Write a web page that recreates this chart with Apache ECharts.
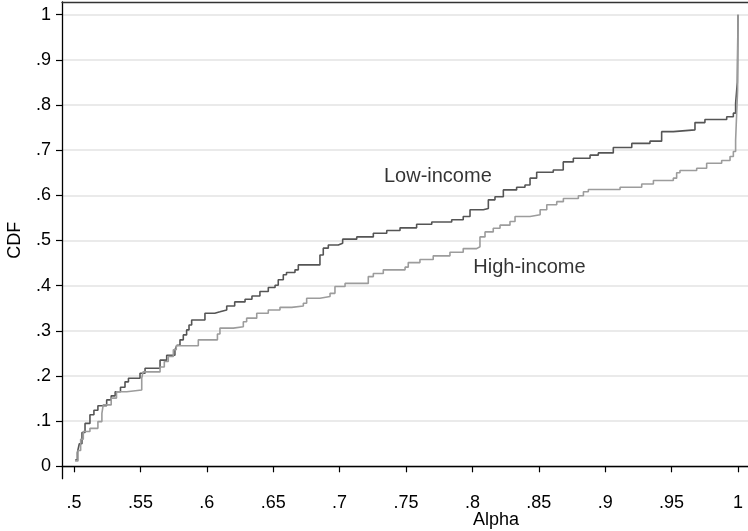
<!DOCTYPE html>
<html>
<head>
<meta charset="utf-8">
<script src="https://cdn.jsdelivr.net/npm/echarts@6/dist/echarts.min.js"></script>
<style>
html,body{margin:0;padding:0;background:#fff;}
#chart{width:748px;height:531px;}
</style>
</head>
<body>
<div id="chart"></div>
<script>
// Tick values
const xTicks = [0.5, 0.55, 0.6, 0.65, 0.7, 0.75, 0.8, 0.85, 0.9, 0.95, 1];
const yTicks = [0, 0.1, 0.2, 0.3, 0.4, 0.5, 0.6, 0.7, 0.8, 0.9, 1];

// Low-income CDF (alpha, cdf) step points
const lowAlpha = [0.5008,0.5025,0.504,0.506,0.5083,0.512,0.515,0.518,0.5246,0.528,0.531,0.535,0.5384,0.541,0.5497,0.5535,0.5648,0.5698,0.576,0.5775,0.5798,0.5823,0.5848,0.5866,0.5886,0.5986,0.606,0.6099,0.615,0.621,0.6288,0.634,0.640,0.6463,0.6514,0.6538,0.6576,0.660,0.6664,0.6689,0.6852,0.6877,0.6915,0.699,0.7023,0.7129,0.7254,0.7355,0.7455,0.758,0.7694,0.7844,0.7931,0.7982,0.8082,0.812,0.817,0.8233,0.8333,0.8396,0.8434,0.8484,0.8609,0.8684,0.876,0.8886,0.8948,0.9061,0.92,0.9337,0.9425,0.9513,0.9676,0.9751,0.9915,0.9965,0.9982,0.9995,1.0];
const lowCdf   = [0.014,0.03,0.05,0.075,0.095,0.114,0.124,0.134,0.147,0.156,0.165,0.175,0.187,0.195,0.206,0.217,0.235,0.246,0.258,0.268,0.280,0.291,0.302,0.313,0.324,0.339,0.342,0.346,0.355,0.364,0.370,0.377,0.387,0.396,0.401,0.413,0.424,0.429,0.435,0.446,0.468,0.483,0.49,0.494,0.503,0.508,0.516,0.522,0.528,0.536,0.541,0.546,0.553,0.568,0.571,0.590,0.597,0.612,0.618,0.623,0.638,0.651,0.656,0.674,0.682,0.689,0.694,0.706,0.715,0.720,0.741,0.745,0.761,0.768,0.774,0.782,0.804,0.85,1.0];

// High-income CDF (alpha, cdf) step points
const highAlpha = [0.5008,0.503,0.505,0.507,0.512,0.518,0.521,0.522,0.528,0.532,0.5397,0.551,0.552,0.5648,0.568,0.571,0.5748,0.577,0.5936,0.608,0.6099,0.62,0.6275,0.630,0.6376,0.6463,0.6551,0.6639,0.6727,0.6752,0.6852,0.6928,0.6965,0.7041,0.7216,0.7254,0.7329,0.7493,0.7517,0.7605,0.7705,0.7831,0.7931,0.8032,0.8057,0.8095,0.8157,0.8208,0.8283,0.8321,0.8434,0.851,0.856,0.8635,0.8685,0.8798,0.8836,0.8873,0.9112,0.9275,0.9363,0.9513,0.9538,0.9563,0.9689,0.9764,0.9877,0.994,0.9965,0.9982,0.9997,1.0];
const highCdf   = [0.012,0.035,0.06,0.077,0.084,0.099,0.117,0.136,0.151,0.165,0.169,0.195,0.209,0.220,0.232,0.243,0.258,0.267,0.280,0.293,0.306,0.309,0.320,0.328,0.339,0.346,0.352,0.355,0.361,0.372,0.376,0.383,0.398,0.405,0.42,0.427,0.435,0.441,0.451,0.458,0.466,0.474,0.482,0.486,0.508,0.519,0.527,0.534,0.542,0.553,0.557,0.568,0.579,0.586,0.593,0.599,0.608,0.613,0.618,0.625,0.633,0.638,0.650,0.655,0.660,0.671,0.677,0.686,0.697,0.722,0.833,1.0];

// Text annotations
const noteNames = ['Low-income', 'High-income'];
const noteAlpha = [0.7334, 0.8007];
const noteCdf   = [0.641, 0.441];

const FONT = 'Liberation Sans, Arial, Helvetica, sans-serif';
function fmt(v){
  if (v === 0) return '0';
  if (v === 1) return '1';
  return String(+v.toFixed(2)).replace(/^0/, '');
}
function zip(a, b){ return a.map((v, i) => [v, b[i]]); }

const chart = echarts.init(document.getElementById('chart'), null, {renderer: 'canvas'});
chart.setOption({
  backgroundColor: '#ffffff',
  animation: false,
  grid: {left: 62, right: 0, top: 2, bottom: 52.3, containLabel: false, outerBoundsMode: 'none'},
  xAxis: [{
    type: 'value',
    min: 0.49096, max: 1.00753,
    name: 'Alpha',
    nameLocation: 'middle',
    nameGap: 32,
    nameMoveOverlap: false,
    nameTextStyle: {fontFamily: FONT, fontSize: 18, color: '#000', padding: [0, 0, 0, 182]},
    axisLine: {show: true, lineStyle: {color: '#000', width: 1.3}},
    axisTick: {show: true, length: 6, customValues: xTicks, lineStyle: {color: '#000', width: 1.2}},
    axisLabel: {customValues: xTicks, formatter: fmt, margin: 15, fontFamily: FONT, fontSize: 18, color: '#000'},
    splitLine: {show: false}
  }, {
    type: 'value',
    position: 'top',
    min: 0.49096, max: 1.00753,
    axisLine: {show: true, lineStyle: {color: '#333', width: 1.3}},
    axisTick: {show: false},
    axisLabel: {show: false},
    splitLine: {show: false}
  }],
  yAxis: {
    type: 'value',
    min: -0.02746, max: 1.0281,
    name: 'CDF',
    nameLocation: 'middle',
    nameGap: 38,
    nameMoveOverlap: false,
    nameTextStyle: {fontFamily: FONT, fontSize: 18, color: '#000'},
    axisLine: {show: true, lineStyle: {color: '#000', width: 1.3}},
    axisTick: {show: true, length: 6, customValues: yTicks, lineStyle: {color: '#000', width: 1.2}},
    axisLabel: {customValues: yTicks, formatter: fmt, margin: 11, fontFamily: FONT, fontSize: 18, color: '#000'},
    splitLine: {show: true, lineStyle: {color: '#e3e3e3', width: 1.5}}
  },
  series: [{
    name: 'Low-income',
    type: 'line',
    step: 'end',
    showSymbol: false,
    data: zip(lowAlpha, lowCdf),
    lineStyle: {color: '#555555', width: 1.6},
    itemStyle: {color: '#555555'},
    z: 3
  }, {
    name: 'High-income',
    type: 'line',
    step: 'end',
    showSymbol: false,
    data: zip(highAlpha, highCdf),
    lineStyle: {color: '#9c9c9c', width: 1.6},
    itemStyle: {color: '#9c9c9c'},
    z: 4
  }, {
    name: 'notes',
    type: 'scatter',
    symbolSize: 0,
    silent: true,
    data: noteNames.map((n, i) => ({name: n, value: [noteAlpha[i], noteCdf[i]]})),
    label: {show: true, position: 'right', distance: 0, formatter: p => p.name,
            fontFamily: FONT, fontSize: 20, color: '#000'},
    z: 5
  }]
});
</script>
</body>
</html>
